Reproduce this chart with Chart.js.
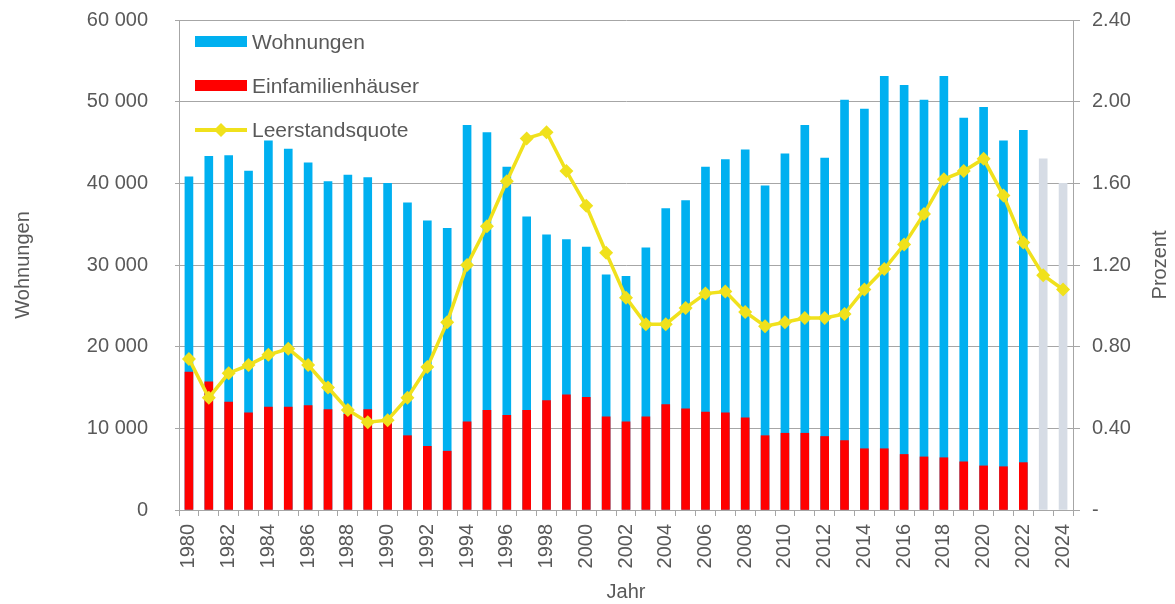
<!DOCTYPE html>
<html>
<head>
<meta charset="utf-8">
<script src="https://cdn.jsdelivr.net/npm/chart.js@4.4.0/dist/chart.umd.min.js"></script>
<style>
  html, body { margin: 0; padding: 0; background: #fff; }
  #wrap { width: 1175px; height: 604px; position: relative; }
</style>
</head>
<body>
<div id="wrap"><canvas id="chart"></canvas></div>
<script>
const years = ['1980','1981','1982','1983','1984','1985','1986','1987','1988','1989',
  '1990','1991','1992','1993','1994','1995','1996','1997','1998','1999',
  '2000','2001','2002','2003','2004','2005','2006','2007','2008','2009',
  '2010','2011','2012','2013','2014','2015','2016','2017','2018','2019',
  '2020','2021','2022','2023','2024'];

// Wohnungen total (2023/2024 = Prognose, grau)
const wohnungen = [40800,43300,43400,41500,45200,44200,42500,40200,41000,40700,
  40000,37600,35400,34500,47100,46200,42000,35900,33700,33100,
  32200,28800,28600,32100,36900,37900,42000,42900,44100,39700,
  43600,47100,43100,50200,49100,53100,52000,50200,53100,48000,
  49300,45200,46500,43000,40000];

const einfamilienhaeuser = [16900,15700,13200,11900,12600,12600,12800,12300,11700,12300,
  11000,9100,7800,7200,10800,12200,11600,12200,13400,14100,
  13800,11400,10800,11400,12900,12400,12000,11900,11300,9100,
  9400,9400,9000,8500,7500,7500,6800,6500,6400,5900,
  5400,5300,5800,null,null];

const leerstandsquote = [0.74,0.55,0.67,0.71,0.76,0.79,0.71,0.60,0.49,0.43,
  0.44,0.55,0.70,0.92,1.20,1.39,1.61,1.82,1.85,1.66,
  1.49,1.26,1.04,0.91,0.91,0.99,1.06,1.07,0.97,0.90,
  0.92,0.94,0.94,0.96,1.08,1.18,1.30,1.45,1.62,1.66,
  1.72,1.54,1.31,1.15,1.08];

const prognoseAb = '2023';

const BLUE = '#00b0f0';
const RED = '#ff0000';
const GREY_BAR = '#d6dce5';
const YELLOW = '#f0e11c';
const GRID = '#a6a6a6';
const TEXT = '#595959';
const FONT = 'Arial, "Liberation Sans", sans-serif';

// legende oben links im diagramm
const legendPlugin = {
  id: 'innerLegend',
  afterDraw(chart) {
    const ctx = chart.ctx;
    ctx.save();
    ctx.font = '21px ' + FONT;
    ctx.fillStyle = TEXT;
    ctx.textBaseline = 'middle';
    const items = [
      { text: 'Wohnungen', color: BLUE, y: 42, kind: 'box' },
      { text: 'Einfamilienhäuser', color: RED, y: 86, kind: 'box' },
      { text: 'Leerstandsquote', color: YELLOW, y: 130, kind: 'line' }
    ];
    items.forEach(it => {
      if (it.kind === 'box') {
        ctx.fillStyle = it.color;
        ctx.fillRect(195, it.y - 6, 52, 11);
      } else {
        ctx.strokeStyle = it.color;
        ctx.lineWidth = 4;
        ctx.beginPath();
        ctx.moveTo(195, it.y);
        ctx.lineTo(247, it.y);
        ctx.stroke();
        ctx.fillStyle = it.color;
        ctx.beginPath();
        ctx.moveTo(221, it.y - 7);
        ctx.lineTo(228, it.y);
        ctx.lineTo(221, it.y + 7);
        ctx.lineTo(214, it.y);
        ctx.closePath();
        ctx.fill();
      }
      ctx.fillStyle = TEXT;
      ctx.fillText(it.text, 252, it.y + 1);
    });

    // rechter achsentitel, von unten nach oben lesbar
    ctx.font = '20px ' + FONT;
    ctx.textAlign = 'center';
    ctx.translate(1160, (chart.chartArea.top + chart.chartArea.bottom) / 2);
    ctx.rotate(-Math.PI / 2);
    ctx.fillText('Prozent', 0, 0);
    ctx.restore();
  }
};

// feste achsenmasse, damit die plotflaeche wie im original liegt
function fixV(width) {
  return s => { s.width = width; s.paddingTop = 0; s.paddingBottom = 0; };
}

const ctx = document.getElementById('chart').getContext('2d');
new Chart(ctx, {
  type: 'bar',
  data: {
    labels: years,
    datasets: [
      {
        type: 'line',
        label: 'Leerstandsquote',
        data: leerstandsquote,
        yAxisID: 'y1',
        borderColor: YELLOW,
        backgroundColor: YELLOW,
        borderWidth: 3.5,
        pointStyle: 'rectRot',
        pointRadius: 7,
        pointBorderWidth: 0,
        tension: 0,
        order: 0
      },
      {
        label: 'Einfamilienhäuser',
        data: einfamilienhaeuser,
        yAxisID: 'y',
        backgroundColor: RED,
        barThickness: 8,
        grouped: false,
        order: 1
      },
      {
        label: 'Wohnungen',
        data: wohnungen,
        yAxisID: 'y',
        backgroundColor: years.map(y => y >= prognoseAb ? GREY_BAR : BLUE),
        barThickness: 8,
        grouped: false,
        order: 2
      }
    ]
  },
  options: {
    responsive: true,
    maintainAspectRatio: false,
    animation: false,
    layout: { padding: { top: 20, left: 0, right: 0, bottom: 0 } },
    plugins: {
      legend: { display: false },
      tooltip: { enabled: false }
    },
    scales: {
      x: {
        afterFit: s => { s.height = 94; s.paddingLeft = 0; s.paddingRight = 0; },
        grid: { display: true, drawOnChartArea: false, color: GRID, tickLength: 6, offset: true },
        border: { color: GRID },
        ticks: {
          autoSkip: false,
          minRotation: 90,
          maxRotation: 90,
          padding: 8,
          color: TEXT,
          font: { family: FONT, size: 20 },
          callback: (v, i) => i % 2 === 0 ? years[i] : ''
        },
        title: {
          display: true,
          text: 'Jahr',
          color: TEXT,
          font: { family: FONT, size: 20 },
          padding: { top: 0, bottom: 0 }
        }
      },
      y: {
        position: 'left',
        min: 0,
        max: 60000,
        afterFit: fixV(179),
        grid: { color: GRID, tickLength: 4 },
        border: { color: GRID },
        ticks: {
          stepSize: 10000,
          padding: 27,
          color: TEXT,
          font: { family: FONT, size: 20 },
          callback: v => v === 0 ? '0' : (v / 1000) + ' 000'
        },
        title: {
          display: true,
          text: 'Wohnungen',
          color: TEXT,
          font: { family: FONT, size: 20 },
          padding: { top: 11, bottom: 0 }
        }
      },
      y1: {
        position: 'right',
        min: 0,
        max: 2.4,
        afterFit: fixV(102),
        grid: { drawOnChartArea: false, color: GRID, tickLength: 7 },
        border: { color: GRID },
        ticks: {
          stepSize: 0.4,
          padding: 12,
          color: TEXT,
          font: { family: FONT, size: 20 },
          callback: v => v === 0 ? '-' : v.toFixed(2)
        }
      }
    }
  },
  plugins: [legendPlugin]
});
</script>
</body>
</html>
